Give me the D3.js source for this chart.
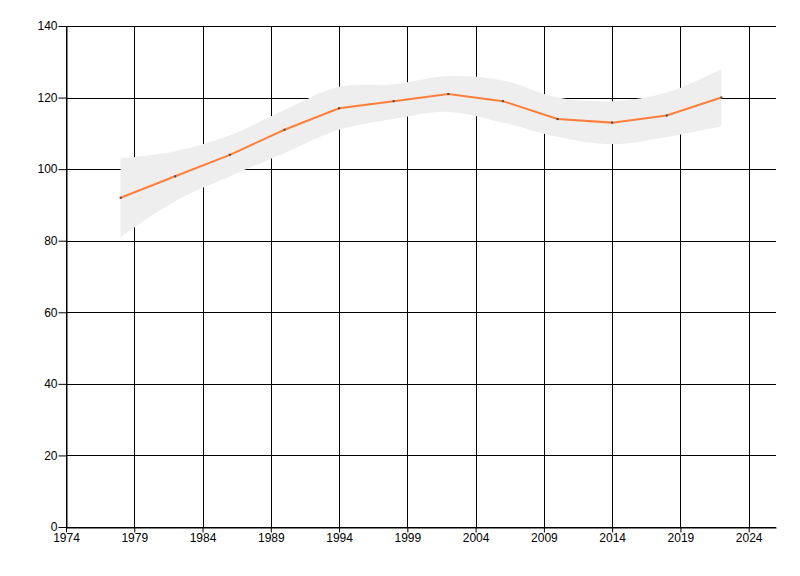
<!DOCTYPE html>
<html>
<head>
<meta charset="utf-8">
<script src="https://cdn.jsdelivr.net/npm/d3@7"></script>
<style>
  body { margin: 0; background: #fff; }
  svg text { font-family: "Liberation Sans", Arial, sans-serif; font-size: 12px; fill: #000; }
</style>
</head>
<body>
<script>
// data
var years  = [1978, 1982, 1986, 1990, 1994, 1998, 2002, 2006, 2010, 2014, 2018, 2022];
var values = [92, 98, 104, 111, 117, 119, 121, 119, 114, 113, 115, 120];
var upper  = [103, 105, 109.5, 116.5, 123, 123.7, 126, 124.8, 120, 119, 121.4, 128];
var lower  = [81, 91, 98, 104.5, 111, 114, 116, 113, 109, 107, 109, 112];
var xTicks = [1974, 1979, 1984, 1989, 1994, 1999, 2004, 2009, 2014, 2019, 2024];
var yTicks = [0, 20, 40, 60, 80, 100, 120, 140];

var width = 800, height = 576;
// plot box (note: "top" is reserved on window, so use plotTop etc.)
var plotLeft = 66, plotRight = 776, plotTop = 26, plotBottom = 527;

var svg = d3.select('body').append('svg')
  .attr('width', width)
  .attr('height', height);

var x = d3.scaleLinear().domain([1974, 2026]).range([plotLeft, plotRight]);
var y = d3.scaleLinear().domain([0, 140]).range([plotBottom, plotTop]);

// grid
var grid = svg.append('g').attr('class', 'grid');
grid.selectAll('line.v')
  .data(xTicks)
  .enter().append('line')
  .attr('x1', function(d) { return Math.round(x(d)) + 0.5; })
  .attr('x2', function(d) { return Math.round(x(d)) + 0.5; })
  .attr('y1', plotTop).attr('y2', plotBottom)
  .attr('stroke', '#000').attr('stroke-width', 1);
grid.selectAll('line.h')
  .data(yTicks)
  .enter().append('line')
  .attr('y1', function(d) { return Math.round(y(d)) + 0.5; })
  .attr('y2', function(d) { return Math.round(y(d)) + 0.5; })
  .attr('x1', plotLeft).attr('x2', plotRight)
  .attr('stroke', '#000').attr('stroke-width', 1);

// confidence band
var rows = years.map(function(d, i) { return { year: d, v: values[i], hi: upper[i], lo: lower[i] }; });
var area = d3.area()
  .x(function(d) { return x(d.year); })
  .y0(function(d) { return y(d.lo); })
  .y1(function(d) { return y(d.hi); })
  .curve(d3.curveCatmullRom.alpha(0.5));
svg.append('path')
  .datum(rows)
  .attr('d', area)
  .attr('fill', '#eeeeee');

// line
var line = d3.line()
  .x(function(d) { return x(d.year); })
  .y(function(d) { return y(d.v); });
svg.append('path')
  .datum(rows)
  .attr('d', line)
  .attr('fill', 'none')
  .attr('stroke', '#ff7f3a')
  .attr('stroke-width', 2);

svg.append('g').selectAll('rect')
  .data(rows)
  .enter().append('rect')
  .attr('x', function(d) { return x(d.year) - 1; })
  .attr('y', function(d) { return y(d.v) - 1; })
  .attr('width', 2).attr('height', 2)
  .attr('fill', '#444');

// axes
var xAxis = d3.axisBottom(x).tickValues(xTicks).tickFormat(d3.format('d')).tickSize(5).tickSizeOuter(0);
var yAxis = d3.axisLeft(y).tickValues(yTicks).tickSize(8).tickSizeOuter(0);

var gx = svg.append('g')
  .attr('transform', 'translate(0,' + (Math.round(plotBottom) + 0.5) + ')')
  .call(xAxis);
var gy = svg.append('g')
  .attr('transform', 'translate(' + (Math.round(plotLeft) + 0.5) + ',0)')
  .call(yAxis);

[gx, gy].forEach(function(g) {
  g.selectAll('path.domain').attr('stroke', '#000');
  g.selectAll('.tick line').attr('stroke', '#000');
  g.selectAll('text').attr('font-family', '"Liberation Sans", Arial, sans-serif').attr('font-size', 12).attr('fill', '#000');
});
gx.selectAll('text').attr('dy', '0.9em').attr('y', 4);
gy.selectAll('text').attr('x', -9);
</script>
</body>
</html>
